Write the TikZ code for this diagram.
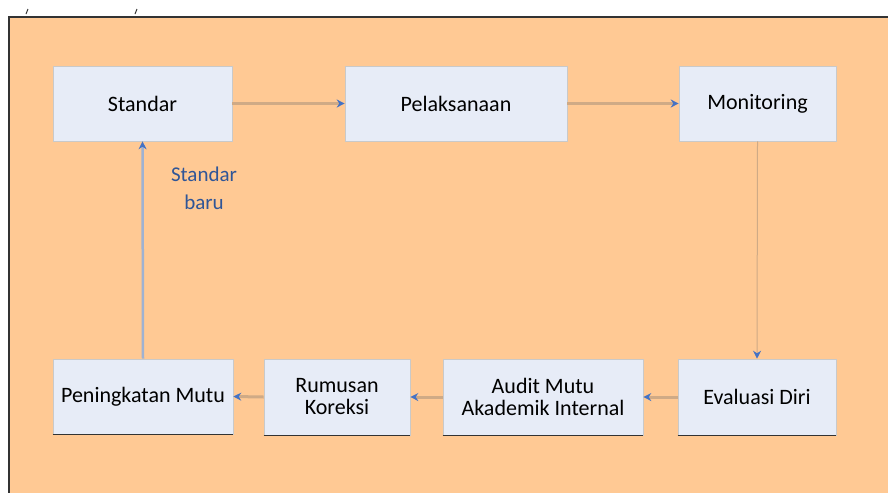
\documentclass[tikz,border=0pt]{standalone}
\usepackage{fontspec}
\setmainfont{Carlito}
\usetikzlibrary{arrows.meta}
\definecolor{bgorange}{HTML}{FFC994}
\definecolor{boxfill}{HTML}{E7ECF7}
\definecolor{boxedge}{HTML}{C9C9C9}
\definecolor{linktan}{HTML}{CFAA86}
\definecolor{tipblue}{HTML}{4472C4}
\definecolor{labelblue}{HTML}{2F5597}
\definecolor{upline}{HTML}{9FB2D2}
\tikzset{
  stepbox/.style={draw=boxedge, line width=0.6pt, fill=boxfill, inner sep=0pt,
    align=center, font=\fontsize{22}{22}\selectfont, text=black},
  link/.style={draw=linktan, line width=3pt, -{Stealth[length=8pt,width=8pt,color=tipblue]}},
  thinlink/.style={draw=linktan, line width=1pt, -{Stealth[length=8pt,width=8pt,color=tipblue]}},
  uplink/.style={draw=upline, line width=2.5pt, -{Stealth[length=8pt,width=8pt,color=tipblue]}},
}
\begin{document}
\begin{tikzpicture}[x=1pt,y=-1pt]
\useasboundingbox (0,0) rectangle (888,493);
\fill[white] (0,0) rectangle (888,493);
\fill[bgorange] (9,17) rectangle (888,493);
\draw[black!80, line width=1.5pt] (8,17) -- (888,17);
\draw[black!80, line width=1.5pt] (9,17) -- (9,493);
\draw[black!80, line width=1pt] (26,14) -- (28,9);
\draw[black!80, line width=1pt] (135,14) -- (137,9);

% top row
\node[stepbox, minimum width=179pt, minimum height=75pt] (std) at (142.5,103.5) {Standar};
\node[stepbox, minimum width=222pt, minimum height=75pt] (pel) at (456,103.5) {Pelaksanaan};
\node[stepbox, minimum width=157pt, minimum height=75pt] (mon) at (757.5,103.5) {Monitoring};
% bottom row
\node[stepbox, minimum width=180pt, minimum height=75pt] (pen) at (143,396.5) {Peningkatan Mutu};
\node[stepbox, minimum width=146pt, minimum height=76pt] (rum) at (337,397) {Rumusan\\Koreksi};
\node[stepbox, minimum width=200pt, minimum height=76pt] (aud) at (543,397) {Audit Mutu\\Akademik Internal};
\node[stepbox, minimum width=158pt, minimum height=76pt] (eva) at (757,397) {Evaluasi Diri};

% shadows under bottom row
\foreach \n in {pen,rum,aud,eva}{
  \draw[black!80, line width=1.5pt] (\n.south west) -- (\n.south east);
}

% connectors
\draw[link] (std.east) -- (pel.west);
\draw[link] (pel.east) -- (mon.west);
\draw[thinlink] (mon.south) -- (eva.north);
\draw[link] (eva.west) -- (aud.east);
\draw[link] (aud.west) -- (rum.east);
\draw[link] (rum.west) -- (pen.east);
\draw[uplink] (pen.north) -- (std.south);

\node[font=\fontsize{21}{28}\selectfont, text=labelblue, align=center] (lbl) at (204,188) {Standar\\baru};
\end{tikzpicture}
\end{document}
